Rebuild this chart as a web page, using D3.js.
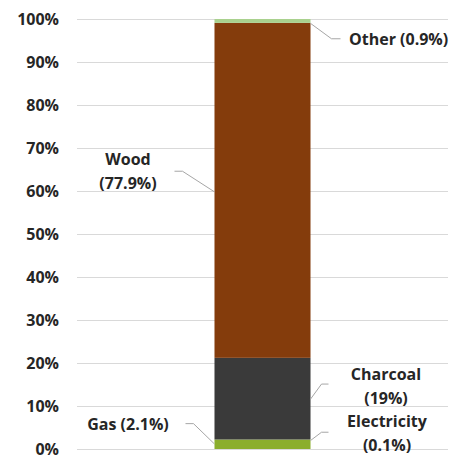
<!DOCTYPE html>
<html>
<head>
<meta charset="utf-8">
<script src="https://cdn.jsdelivr.net/npm/d3@7"></script>
<style>
  html, body { margin: 0; padding: 0; background: #fff; }
  svg text { font-family: "Open Sans", sans-serif; font-weight: 700; fill: #262626; }
</style>
</head>
<body>
<svg id="chart" width="462" height="455"></svg>
<script>
// Household cooking fuel shares (percent), stacked bottom to top
const categories = ["Total"];
const fuels = ["Gas", "Electricity", "Charcoal", "Wood", "Other"];
const shares = [2.1, 0.1, 19, 77.9, 0.9];
const fuelColors = ["#8bae2c", "#9dc23a", "#3a3a3a", "#843c0c", "#a9d18e"];
const labelLines = [["Gas (2.1%)"], ["Electricity", "(0.1%)"], ["Charcoal", "(19%)"], ["Wood", "(77.9%)"], ["Other (0.9%)"]];
const tickValues = [0, 10, 20, 30, 40, 50, 60, 70, 80, 90, 100];

const svg = d3.select("#chart");
const margin = { top: 19, right: 14, bottom: 6, left: 77 };
const W = 462, H = 455;
const FS = 16;

const y = d3.scaleLinear().domain([0, 100]).range([H - margin.bottom, margin.top]);
const x = d3.scaleBand().domain(categories).range([margin.left, W - margin.right])
  .paddingInner(0).paddingOuter(1.432);

// gridlines
svg.append("g")
  .selectAll("line").data(tickValues).join("line")
  .attr("x1", margin.left).attr("x2", W - margin.right)
  .attr("y1", d => Math.round(y(d)) + 0.5).attr("y2", d => Math.round(y(d)) + 0.5)
  .attr("stroke", "#d9d9d9").attr("stroke-width", 1);

// y axis labels
const yAxis = d3.axisLeft(y).tickValues(tickValues).tickFormat(d => d + "%").tickSize(0).tickPadding(0);
const ag = svg.append("g").attr("transform", `translate(59,0)`).call(yAxis);
ag.select(".domain").remove();
ag.selectAll("text").attr("font-size", FS).attr("font-family", "Open Sans").attr("font-weight", 700)
  .attr("fill", "#262626").attr("dy", "0.33em");

// stacked segments
const stackData = [Object.fromEntries(fuels.map((f, i) => [f, shares[i]]))];
const series = d3.stack().keys(fuels)(stackData);

svg.append("g").selectAll("rect").data(series).join("rect")
  .attr("x", x(categories[0]))
  .attr("width", x.bandwidth())
  .attr("y", d => y(d[0][1]))
  .attr("height", d => y(d[0][0]) - y(d[0][1]))
  .attr("fill", (d, i) => fuelColors[i]);

// data labels with leader lines
const bx0 = x(categories[0]), bx1 = bx0 + x.bandwidth();
// per-fuel placement: anchor point on the bar, elbow, label position
const place = [
  { pts: [[bx0, y(series[0][0][0]) - 5], [bx0 - 21, y(5.9)], [bx0 - 29, y(5.9)]], tx: 128, anchor: "middle", ty0: y(5.9) + 6 },
  { pts: [[bx1, y(series[1][0][1]) + 1], [bx1 + 11, y(3.9)], [bx1 + 18, y(3.9)]], tx: 387, anchor: "middle", ty0: y(5.2) },
  { pts: [[bx1, y(11.6)], [bx1 + 11, y(15.1)], [bx1 + 18, y(15.1)]], tx: 386, anchor: "middle", ty0: y(16.1) },
  { pts: [[bx0, y(59.8)], [bx0 - 32, y(64.6)], [bx0 - 40, y(64.6)]], tx: 128, anchor: "middle", ty0: y(66.1) },
  { pts: [[bx1, y(series[4][0][0]) + 0.5], [bx1 + 21, y(95.4)], [bx1 + 30, y(95.4)]], tx: 349, anchor: "start", ty0: y(95.4) + 6 }
];

const lg = svg.append("g");
place.forEach((p, i) => {
  lg.append("path").attr("d", d3.line()(p.pts)).attr("fill", "none")
    .attr("stroke", "#a6a6a6").attr("stroke-width", 1);
  const t = lg.append("text").attr("x", p.tx).attr("y", p.ty0)
    .attr("text-anchor", p.anchor).attr("font-size", FS);
  labelLines[i].forEach((s, k) => {
    t.append("tspan").attr("x", p.tx).attr("dy", k === 0 ? 0 : 24).text(s);
  });
});
</script>
</body>
</html>
